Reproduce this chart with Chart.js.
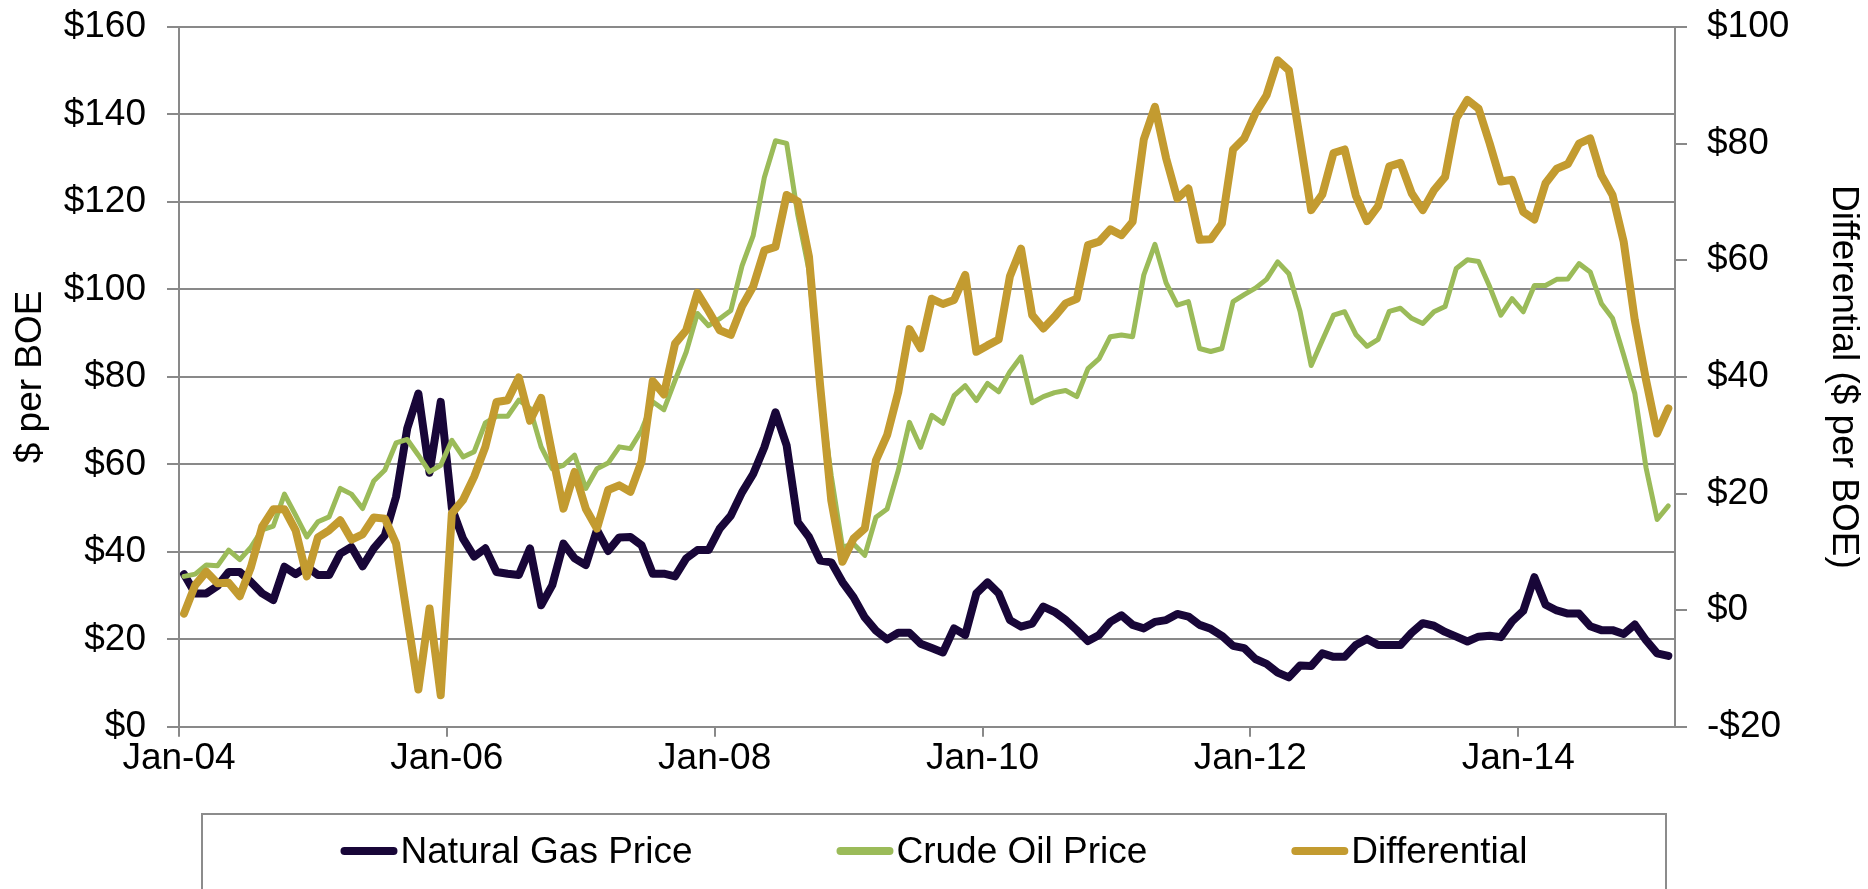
<!DOCTYPE html>
<html lang="en">
<head>
  <meta charset="UTF-8">
  <title>Natural Gas vs Crude Oil Price</title>
  <script src="https://cdn.jsdelivr.net/npm/chart.js"></script>
  <style>
    html, body {
      margin: 0;
      padding: 0;
      background-color: #ffffff;
    }

    #chartWrap {
      width: 1868px;
      height: 889px;
      overflow: hidden;
    }
  </style>
</head>
<body>

<div id="chartWrap">
  <canvas id="priceChart" width="1868" height="889"></canvas>
</div>

<script>
  // monthly averages, Jan-04 .. Feb-15 ($ per BOE)
  const natGas = [
    34.9, 30.5, 30.5, 32.2, 35.4, 35.4, 33.1, 30.5, 29.0, 36.6, 34.9, 36.6,
    34.7, 34.7, 39.6, 41.1, 36.7, 40.8, 43.8, 52.6, 68.2, 76.2, 58.1, 74.3,
    50.0, 43.0, 38.9, 40.8, 35.4, 35.0, 34.7, 40.8, 27.8, 32.4, 41.9, 38.5,
    37.0, 45.0, 40.2, 43.3, 43.4, 41.5, 35.0, 35.0, 34.4, 38.5, 40.4, 40.4,
    45.3, 48.3, 53.6, 57.8, 63.9, 71.9, 64.3, 46.8, 43.4, 38.0, 37.6, 33.1,
    29.6, 25.0, 22.0, 20.0, 21.5, 21.5, 19.0, 18.0, 17.0, 22.5, 21.0, 30.5,
    33.0, 30.5, 24.4, 22.9, 23.6, 27.5, 26.3, 24.4, 22.1, 19.6, 21.0, 24.0,
    25.5, 23.3, 22.5, 24.0, 24.4, 25.8, 25.2, 23.3, 22.4, 20.8, 18.5, 18.0,
    15.5, 14.4, 12.4, 11.3, 14.0, 13.9, 16.8, 16.0, 16.0, 18.7, 20.1, 18.7,
    18.7, 18.7, 21.5, 23.7, 23.1, 21.7, 20.6, 19.5, 20.6, 20.8, 20.5, 24.1,
    26.5, 34.2, 27.9, 26.6, 25.9, 25.9, 23.0, 22.1, 22.1, 21.2, 23.4, 19.8,
    16.8, 16.2
  ];

  const crudeOil = [
    34.4, 34.9, 37.0, 36.8, 40.4, 38.2, 41.1, 45.0, 45.9, 53.2, 48.4, 43.4,
    46.9, 48.0, 54.5, 53.2, 49.9, 56.2, 58.7, 64.9, 65.7, 62.1, 58.3, 59.8,
    65.5, 61.7, 62.9, 69.5, 71.0, 71.0, 74.7, 72.8, 64.0, 59.0, 59.8, 62.1,
    54.5, 59.0, 60.3, 64.0, 63.6, 67.8, 74.3, 72.5, 79.2, 85.7, 94.5, 91.7,
    93.3, 95.2, 105.4, 112.3, 125.6, 134.0, 133.4, 117.0, 104.3, 76.6, 57.3, 41.1,
    41.8, 39.2, 47.9, 49.8, 58.6, 69.6, 63.9, 71.2, 69.4, 75.7, 78.0, 74.6,
    78.5, 76.6, 81.2, 84.6, 74.1, 75.5, 76.4, 76.9, 75.5, 81.9, 84.2, 89.2,
    89.6, 89.2, 103.3, 110.3, 101.5, 96.4, 97.2, 86.5, 85.8, 86.5, 97.2, 98.8,
    100.3, 102.3, 106.3, 103.6, 95.0, 82.6, 88.4, 94.1, 94.9, 89.7, 87.0, 88.6,
    95.0, 95.7, 93.4, 92.2, 94.9, 96.1, 104.8, 106.8, 106.4, 100.6, 94.1, 97.9,
    94.9, 100.9, 100.9, 102.3, 102.4, 105.9, 104.0, 96.8, 93.4, 85.0, 76.2, 59.3,
    47.4, 50.5
  ];

  const differential = [
    -0.6, 4.3, 6.6, 4.6, 4.7, 2.4, 7.4, 14.3, 17.3, 17.3, 13.7, 5.8,
    12.5, 13.7, 15.4, 12.1, 13.0, 15.9, 15.7, 11.4, -1.1, -13.6, 0.3, -14.6,
    16.6, 18.9, 22.9, 28.0, 35.7, 36.0, 39.9, 32.5, 36.4, 26.7, 17.4, 23.7,
    17.4, 14.0, 20.6, 21.4, 20.3, 25.5, 39.3, 37.0, 45.7, 48.0, 54.4, 51.3,
    48.0, 47.2, 52.1, 55.5, 61.7, 62.3, 71.2, 70.1, 60.6, 38.5, 18.8, 8.3,
    12.3, 14.0, 25.7, 30.0, 37.4, 48.2, 44.9, 53.4, 52.5, 53.2, 57.5, 44.3,
    45.4, 46.4, 57.2, 62.0, 50.6, 48.3, 50.3, 52.6, 53.4, 62.6, 63.2, 65.3,
    64.3, 66.6, 80.7, 86.3, 77.5, 70.6, 72.3, 63.5, 63.6, 66.3, 79.0, 80.9,
    85.2, 88.3, 94.3, 92.6, 80.7, 68.6, 71.3, 78.4, 79.0, 71.1, 66.7, 69.3,
    76.1, 76.7, 71.5, 68.6, 72.0, 74.3, 84.3, 87.5, 86.0, 80.0, 73.5, 73.8,
    68.3, 67.0, 73.2, 75.7, 76.5, 80.0, 80.9, 74.6, 71.2, 63.2, 49.7, 39.5,
    30.3, 34.6
  ];

  const seriesNames = ['Natural Gas Price', 'Crude Oil Price', 'Differential'];
  const seriesColors = ['#180638', '#9bbb59', '#c39b30'];

  // x axis: months since Jan-04
  const tickMonths = [0, 24, 48, 72, 96, 120];
  const tickLabels = ['Jan-04', 'Jan-06', 'Jan-08', 'Jan-10', 'Jan-12', 'Jan-14'];
  const leftTickLabels = ['$0', '$20', '$40', '$60', '$80', '$100', '$120', '$140', '$160'];
  const rightTickLabels = ['-$20', '$0', '$20', '$40', '$60', '$80', '$100'];

  const gridColor = '#898989';
  const textFont = { family: '"Liberation Sans", Arial, sans-serif', size: 37 };

  // each value sits mid-month on the date axis
  const toPoints = arr => arr.map((v, i) => ({ x: i + 0.45, y: v }));

  // fixed axis box so the plot lands where the original one does
  const fixY = width => s => {
    s.width = width;
    s.paddingTop = 0;
    s.paddingBottom = 0;
  };

  // Excel style legend: centred row inside a grey box under the axis
  const boxedLegend = {
    id: 'boxedLegend',
    afterDraw(chart) {
      const ctx = chart.ctx;
      const sample = 57, gap = 3, between = 144;
      const y = 851;
      ctx.save();
      ctx.strokeStyle = '#8c8c8c';
      ctx.lineWidth = 2;
      ctx.strokeRect(202, 814, 1464, 140);
      ctx.font = `${textFont.size}px ${textFont.family}`;
      ctx.textBaseline = 'middle';
      const widths = chart.data.datasets.map(ds => ctx.measureText(ds.label).width);
      const total = widths.reduce((a, w) => a + sample + gap + w, 0) + between * (widths.length - 1);
      let x = 934 - total / 2;
      chart.data.datasets.forEach((ds, k) => {
        ctx.strokeStyle = ds.borderColor;
        ctx.lineWidth = 8;
        ctx.lineCap = 'round';
        ctx.beginPath();
        ctx.moveTo(x + 4, y);
        ctx.lineTo(x + sample - 4, y);
        ctx.stroke();
        x += sample + gap;
        ctx.fillStyle = '#000000';
        ctx.fillText(ds.label, x, y + 2);
        x += widths[k] + between;
      });
      ctx.restore();
    }
  };

  const lineOpts = {
    pointRadius: 0,
    tension: 0,
    borderJoinStyle: 'round',
    borderCapStyle: 'round'
  };

  new Chart(document.getElementById('priceChart'), {
    type: 'line',
    data: {
      datasets: [
        { ...lineOpts, label: seriesNames[0], data: toPoints(natGas), borderColor: seriesColors[0], borderWidth: 8, yAxisID: 'y', order: 2 },
        { ...lineOpts, label: seriesNames[1], data: toPoints(crudeOil), borderColor: seriesColors[1], borderWidth: 5, yAxisID: 'y', order: 1 },
        { ...lineOpts, label: seriesNames[2], data: toPoints(differential), borderColor: seriesColors[2], borderWidth: 8, yAxisID: 'y1', order: 0 }
      ]
    },
    options: {
      responsive: false,
      animation: false,
      devicePixelRatio: 1,
      layout: { padding: { top: 27, left: 0, right: 0, bottom: 0 } },
      plugins: {
        legend: { display: false },
        tooltip: { enabled: false }
      },
      scales: {
        x: {
          type: 'linear',
          min: 0,
          max: 134.05,
          afterBuildTicks: s => { s.ticks = tickMonths.map(v => ({ value: v })); },
          afterFit: s => { s.height = 162.2; },
          ticks: {
            callback: (v, i) => tickLabels[i],
            color: '#000000',
            font: textFont,
            padding: 0,
            maxRotation: 0,
            autoSkip: false
          },
          grid: { drawOnChartArea: false, tickLength: 10, color: gridColor, lineWidth: 2 },
          border: { color: gridColor, width: 2 }
        },
        y: {
          position: 'left',
          min: 0,
          max: 160,
          afterFit: fixY(179),
          ticks: {
            stepSize: 20,
            callback: (v, i) => leftTickLabels[i],
            color: '#000000',
            font: textFont,
            padding: 21
          },
          grid: { color: gridColor, lineWidth: 2, tickLength: 12 },
          border: { color: gridColor, width: 2 },
          title: {
            display: true,
            text: '$ per BOE',
            color: '#000000',
            font: textFont,
            padding: { top: 9, bottom: 0 }
          }
        },
        y1: {
          position: 'right',
          min: -20,
          max: 100,
          afterFit: fixY(193),
          ticks: {
            stepSize: 20,
            callback: (v, i) => rightTickLabels[i],
            color: '#000000',
            font: textFont,
            padding: 20
          },
          grid: { drawOnChartArea: false, color: gridColor, lineWidth: 2, tickLength: 12 },
          border: { color: gridColor, width: 2 },
          title: {
            display: true,
            text: 'Differential ($ per BOE)',
            color: '#000000',
            font: textFont,
            padding: { top: 3, bottom: 0 }
          }
        }
      }
    },
    plugins: [boxedLegend]
  });
</script>

</body>
</html>
